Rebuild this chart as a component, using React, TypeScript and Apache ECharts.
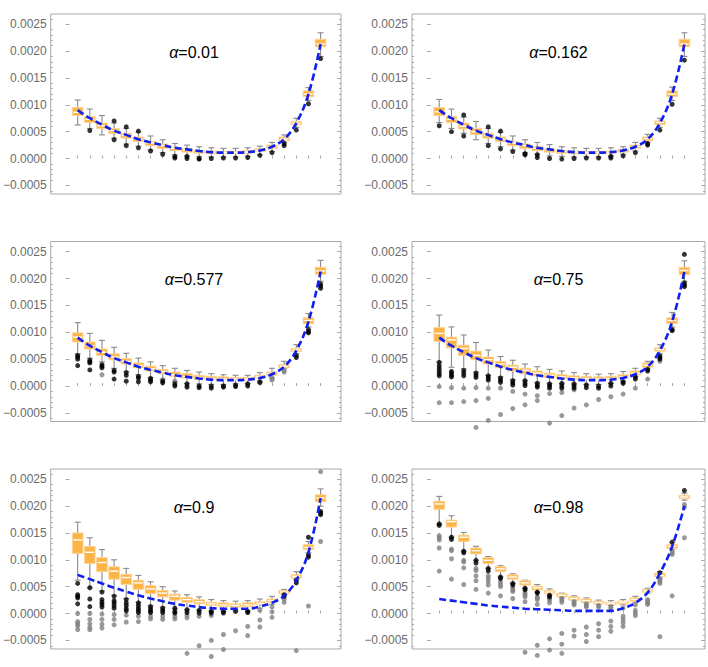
import React, { useEffect, useRef } from 'react';
import * as echarts from 'echarts';

const positions = [1, 2, 3, 4, 5, 6, 7, 8, 9, 10, 11, 12, 13, 14, 15, 16, 17, 18, 19, 20, 21];
const yMajor = [-0.0005, 0, 0.0005, 0.001, 0.0015, 0.002, 0.0025];
const yMinor = [-0.0006, -0.0004, -0.0003, -0.0002, -0.0001, 0.0001, 0.0002, 0.0003, 0.0004, 0.0006, 0.0007, 0.0008, 0.0009, 0.0011, 0.0012, 0.0013, 0.0014, 0.0016, 0.0017, 0.0018, 0.0019, 0.0021, 0.0022, 0.0023, 0.0024, 0.0026];
const alphaLabels = ['0.01', '0.162', '0.577', '0.75', '0.9', '0.98'];

// box rows: [lowWhisker, Q1, median, Q3, highWhisker]
const box001 = [
  [0.000625, 0.0008, 0.00086, 0.00095, 0.00109], [0.00056, 0.00067, 0.00073, 0.00078, 0.00092], [0.00044, 0.00056, 0.00061, 0.00066, 0.0008],
  [0.00038, 0.00047, 0.00052, 0.00056, 0.00066], [0.00027, 0.00038, 0.00043, 0.00047, 0.00056], [0.00023, 0.00032, 0.00036, 0.0004, 0.00049],
  [0.00016, 0.00024, 0.00029, 0.00032, 0.00042], [0.00011, 0.00019, 0.00024, 0.00027, 0.00035], [0.00007, 0.00015, 0.00019, 0.00021, 0.00028],
  [0.00005, 0.00012, 0.00016, 0.00018, 0.00025], [0.00004, 0.0001, 0.00013, 0.00015, 0.00022], [0.00003, 0.00009, 0.00012, 0.00014, 0.0002],
  [0.00003, 0.00009, 0.00011, 0.00013, 0.00019], [0.00003, 0.00009, 0.00011, 0.00013, 0.00019], [0.00004, 0.0001, 0.00012, 0.00015, 0.0002],
  [0.00007, 0.00013, 0.00015, 0.00018, 0.00023], [0.00013, 0.00019, 0.00022, 0.00025, 0.0003], [0.0003, 0.00033, 0.00036, 0.0004, 0.00044],
  [0.00058, 0.00063, 0.00066, 0.00069, 0.00075], [0.00108, 0.00115, 0.0012, 0.00126, 0.00132], [0.0019, 0.00208, 0.00213, 0.00222, 0.00234],
];
const near001 = [[], [0.00052], [], [0.0007, 0.00035], [0.00059, 0.00024], [0.00051, 0.0002], [0.00014], [0.00008], [0.00004, 0.00001], [0.00004, 0.0], [0.0, -0.00001], [0.0], [0.00001], [0.00001], [0.00002], [0.00006], [0.00011], [0.00028, 0.00024], [0.00053], [0.00102], [0.00186]];
const far001 = [[], [], [], [], [], [], [], [], [], [], [], [], [], [], [], [], [], [], [], [], []];

const box0162 = [
  [0.00067, 0.0008, 0.00087, 0.00095, 0.0011], [0.00056, 0.00067, 0.00073, 0.00078, 0.00092], [0.00047, 0.00055, 0.0006, 0.00066, 0.00077],
  [0.00035, 0.00045, 0.0005, 0.00056, 0.00069], [0.00028, 0.00038, 0.00043, 0.00047, 0.00056], [0.00022, 0.00032, 0.00036, 0.0004, 0.00049],
  [0.00016, 0.00024, 0.00029, 0.00032, 0.00042], [0.00011, 0.00019, 0.00024, 0.00027, 0.00035], [0.00008, 0.00015, 0.00019, 0.00022, 0.0003],
  [0.00005, 0.00012, 0.00016, 0.00018, 0.00026], [0.00004, 0.0001, 0.00013, 0.00015, 0.00022], [0.00003, 0.00009, 0.00012, 0.00014, 0.0002],
  [0.00003, 0.00009, 0.00011, 0.00013, 0.00019], [0.00003, 0.00009, 0.00011, 0.00013, 0.00019], [0.00005, 0.0001, 0.00012, 0.00014, 0.0002],
  [0.00008, 0.00012, 0.00015, 0.00017, 0.00022], [0.00014, 0.00019, 0.00022, 0.00025, 0.0003], [0.0003, 0.00033, 0.00037, 0.0004, 0.00045],
  [0.00058, 0.00063, 0.00067, 0.0007, 0.00075], [0.00108, 0.00115, 0.0012, 0.00126, 0.00133], [0.0019, 0.00208, 0.00213, 0.00222, 0.00234],
];
const near0162 = [[0.00061], [0.0005], [0.00081, 0.00042], [], [0.00059, 0.00024], [0.00051, 0.00018], [0.00013], [0.00009, 0.00007], [0.00007, 0.00002], [0.0], [-0.00001], [0.0], [0.00001], [0.00001], [0.00004, 0.00001], [0.00005], [0.00011], [0.00028, 0.00025], [0.00053], [0.00101], [0.00183]];
const far0162 = [[], [], [], [], [], [], [], [], [], [], [], [], [], [], [], [], [], [], [], [], []];

const box0577 = [
  [0.0006, 0.00082, 0.00091, 0.00099, 0.00118], [0.00052, 0.00069, 0.00075, 0.00082, 0.00098], [0.00045, 0.00057, 0.00063, 0.00069, 0.00085],
  [0.00033, 0.00049, 0.00054, 0.0006, 0.00072], [0.00027, 0.00041, 0.00046, 0.00051, 0.00061], [0.00021, 0.00034, 0.00038, 0.00043, 0.00052],
  [0.00016, 0.00028, 0.00032, 0.00037, 0.00045], [0.00013, 0.00023, 0.00027, 0.00031, 0.00038], [0.00008, 0.00018, 0.00021, 0.00026, 0.00033],
  [0.00005, 0.00015, 0.00018, 0.00023, 0.00029], [0.00004, 0.00013, 0.00016, 0.0002, 0.00026], [0.00003, 0.00012, 0.00014, 0.00018, 0.00023],
  [0.00003, 0.00012, 0.00013, 0.00017, 0.00021], [0.00004, 0.00011, 0.00013, 0.00016, 0.0002], [0.00005, 0.00011, 0.00013, 0.00016, 0.0002],
  [0.00009, 0.00015, 0.00017, 0.0002, 0.00025], [0.00015, 0.0002, 0.00023, 0.00026, 0.00033], [0.00032, 0.00034, 0.00037, 0.0004, 0.00046],
  [0.0006, 0.00064, 0.00067, 0.0007, 0.00077], [0.0011, 0.00116, 0.00122, 0.00127, 0.00135], [0.00195, 0.00208, 0.00214, 0.00221, 0.00234],
];
const near0577 = [[0.00057, 0.00054, 0.0005, 0.00038], [0.00048, 0.00045, 0.00043, 0.0003], [0.0004, 0.00037, 0.00034], [0.00029, 0.00026, 0.00013], [0.00025, 0.0002, 0.00009], [0.00018, 0.00015, 0.00008], [0.00014, 0.00011, 0.00008], [0.00009, 0.00006], [0.00004, 0.0], [0.00004, -0.00001], [0.0, -0.00003], [0.0, -0.00004], [0.0, -0.00002], [0.00002, -0.00001], [0.00004, 0.0], [0.00007], [], [], [0.00057, 0.00053], [0.00105, 0.00101, 0.00099], [0.0019, 0.00186, 0.00182]];
const far0577 = [[], [], [0.00021], [], [], [], [], [0.00012], [0.00009], [-0.00003], [], [], [], [], [], [0.00009, 0.00006], [0.00015, 0.00011], [0.00029, 0.00026], [], [], []];

const box075 = [
  [0.00045, 0.00083, 0.00098, 0.00109, 0.00132], [0.00035, 0.00071, 0.00086, 0.00091, 0.0011], [0.00032, 0.00057, 0.0007, 0.00076, 0.00095],
  [0.00026, 0.00049, 0.00057, 0.00065, 0.00081], [0.0002, 0.00041, 0.00049, 0.00054, 0.00067], [0.00017, 0.00034, 0.00041, 0.00046, 0.00055],
  [0.00012, 0.00028, 0.00035, 0.00039, 0.00048], [0.0001, 0.00023, 0.00029, 0.00033, 0.00041], [0.00007, 0.00019, 0.00024, 0.00028, 0.00036],
  [0.00005, 0.00016, 0.0002, 0.00024, 0.00031], [0.00004, 0.00014, 0.00017, 0.00021, 0.00028], [0.00004, 0.00012, 0.00015, 0.00019, 0.00025],
  [0.00003, 0.00012, 0.00014, 0.00018, 0.00023], [0.00003, 0.00012, 0.00013, 0.00017, 0.00022], [0.00005, 0.00013, 0.00014, 0.00018, 0.00023],
  [0.00009, 0.00015, 0.00017, 0.00021, 0.00027], [0.00018, 0.00021, 0.00024, 0.00028, 0.00033], [0.00032, 0.00035, 0.00039, 0.00043, 0.00046],
  [0.0006, 0.00065, 0.00068, 0.00071, 0.00077], [0.0011, 0.00116, 0.00122, 0.00127, 0.00137], [0.00195, 0.00207, 0.00215, 0.00221, 0.00233],
];
const near075 = [[0.00044, 0.00038, 0.00033, 0.00028, 0.00023, 0.00019], [0.00027, 0.00024, 0.0002, 0.00017], [0.00029, 0.00024, 0.00019], [0.00024, 0.0002, 0.00016], [0.00019, 0.00015, 0.00011], [0.00015, 0.00011, 0.00007], [0.0001, 0.00006, 0.00002], [0.0001, 0.00005, 0.00001], [0.00005, 0.00001, -0.00002], [0.00004, 0.0, -0.00004], [0.00005, 0.0, -0.00004], [0.00004, 0.0, -0.00004], [0.00002, -0.00003], [0.0, -0.00004], [0.00005, 0.0], [0.00008, 0.00005], [0.00017, 0.00013], [0.00031, 0.00028], [0.00056, 0.00053, 0.0005], [0.00105, 0.00103], [0.00245, 0.00192, 0.00188, 0.00185]];
const far075 = [[-0.00001, -0.00031], [-0.00003, -0.00031], [-0.00004, -0.00029], [-0.00003, -0.00027, -0.00077], [-0.00004, -0.00023, -0.00064], [-0.00004, -0.00053], [-0.0001, -0.00042], [-0.00015, -0.00035], [-0.00018, -0.00027], [-0.00014, -0.00069], [-0.00012, -0.00055], [-0.00007, -0.00041], [-0.00035], [-0.00025], [-0.0002], [-0.00015], [-0.00004], [0.00013], [0.00046], [], []];

const box09 = [
  [0.00062, 0.00112, 0.00137, 0.0015, 0.0017], [0.00048, 0.00093, 0.00114, 0.00125, 0.00141], [0.00042, 0.00078, 0.00095, 0.00104, 0.00119],
  [0.00034, 0.00064, 0.00079, 0.00087, 0.001], [0.00028, 0.00054, 0.00067, 0.00073, 0.00084], [0.00021, 0.00045, 0.00057, 0.00062, 0.00071],
  [0.00015, 0.00037, 0.00046, 0.00052, 0.00059], [0.00012, 0.00031, 0.00038, 0.00043, 0.0005], [0.00009, 0.00025, 0.00032, 0.00036, 0.00042],
  [0.00007, 0.00021, 0.00026, 0.0003, 0.00035], [0.00006, 0.00018, 0.00022, 0.00026, 0.00031], [0.00005, 0.00015, 0.00018, 0.00021, 0.00026],
  [0.00004, 0.00013, 0.00016, 0.0002, 0.00024], [0.00005, 0.00012, 0.00015, 0.00018, 0.00023], [0.00005, 0.00013, 0.00016, 0.0002, 0.00024],
  [0.0001, 0.00017, 0.00019, 0.00022, 0.00027], [0.00017, 0.00021, 0.00024, 0.00027, 0.00032], [0.00035, 0.00037, 0.0004, 0.00043, 0.00045],
  [0.00063, 0.00066, 0.00069, 0.00072, 0.00078], [0.00113, 0.00119, 0.00123, 0.00128, 0.00134], [0.002, 0.00208, 0.00215, 0.00221, 0.00232],
];
const near09 = [[0.00056, 0.00035, 0.00032, 0.00029, 0.00018], [0.00048, 0.00027, 0.00013], [0.0004, 0.00026, 0.00021, 0.00017, 0.00012], [0.00032, 0.00024, 0.0002, 0.00015, 0.0001], [0.00026, 0.0002, 0.00015, 0.00009, 0.00005], [0.0002, 0.00015, 0.0001, 0.00006, 0.00002], [0.00013, 0.00009, 0.00005, 0.00002], [0.0001, 0.00006, 0.00002], [0.0001, 0.00004, 0.00001], [0.00007, 0.00002], [0.00006, 0.00001], [0.00004, 0.00001], [0.00004, 0.00001], [0.00004], [0.00004, 0.00002], [], [], [0.00035, 0.00032], [0.00062, 0.00057], [0.00142, 0.00109, 0.00105], [0.0019, 0.00187, 0.00184]];
const far09 = [[0.0, -0.00015, -0.00019, -0.00023, -0.0003], [0.0, -0.00011, -0.00019, -0.00026, -0.0003], [-0.00001, -0.00011, -0.0002, -0.00027], [-0.00002, -0.00011, -0.00021], [-0.00003, -0.00016], [-0.00005, -0.00015], [-0.00005, -0.0001], [-0.00005, -0.00011], [-0.00005, -0.0001], [-0.00003, -0.00008, -0.00074], [-0.00005, -0.0006], [-0.00004, -0.0005, -0.0008], [-0.00039, -0.00067], [-0.00032], [-0.00024, -0.00041], [0.00006, -0.00012, -0.00025], [0.00012, 0.00003, -0.00007], [0.00027, 0.00021], [-0.00069], [0.00014], [0.00264, 0.00134]];

const box098 = [
  [0.00166, 0.00194, 0.00204, 0.00209, 0.00218], [0.00142, 0.00161, 0.00171, 0.00174, 0.00182], [0.00116, 0.00134, 0.00142, 0.00146, 0.00151],
  [0.00099, 0.00111, 0.00117, 0.00122, 0.00125], [0.00084, 0.00093, 0.00099, 0.00104, 0.00106], [0.00068, 0.00078, 0.00083, 0.00087, 0.00089],
  [0.00056, 0.00064, 0.00068, 0.00072, 0.00074], [0.00047, 0.00053, 0.00057, 0.00061, 0.00062], [0.0004, 0.00044, 0.00048, 0.00051, 0.00054],
  [0.00034, 0.00037, 0.0004, 0.00043, 0.00046], [0.0003, 0.00031, 0.00034, 0.00037, 0.00038], [0.00024, 0.00025, 0.00028, 0.00031, 0.00033],
  [0.0002, 0.00021, 0.00024, 0.00027, 0.00029], [0.00017, 0.00018, 0.0002, 0.00023, 0.00025], [0.00015, 0.00017, 0.00019, 0.00021, 0.00024],
  [0.00016, 0.00018, 0.00021, 0.00023, 0.00026], [0.00021, 0.00023, 0.00026, 0.00029, 0.00032], [0.00038, 0.0004, 0.00042, 0.00045, 0.00047],
  [0.00066, 0.00069, 0.00071, 0.00075, 0.00078], [0.0012, 0.00121, 0.00125, 0.00128, 0.00132], [0.00211, 0.00214, 0.00217, 0.0022, 0.00224],
];
const near098 = [[0.00167, 0.00164], [0.00142, 0.00138], [0.00116, 0.00113], [0.00099, 0.00094], [0.00084, 0.00079], [0.00068, 0.00065], [0.00056, 0.00053], [0.00047, 0.00044], [0.0004, 0.00038], [0.00034, 0.00031], [], [], [], [], [], [], [], [], [0.00076], [0.00133], [0.00229]];
const far098 = [[0.00145, 0.00141, 0.00137, 0.00122, 0.00079], [0.0012, 0.00117, 0.00102, 0.00064], [0.00099, 0.00096, 0.00085, 0.00054], [0.00084, 0.0008, 0.0007, 0.00061, 0.00045], [0.0007, 0.00065, 0.00059, 0.00053, 0.00038], [0.00059, 0.00054, 0.0005, 0.00033], [0.00047, 0.00044, 0.00041, 0.00028], [0.00038, 0.00035, 0.00031, 0.00022, -0.00072], [0.00031, 0.00029, 0.00026, 0.00017, -0.00059, -0.00078], [0.00028, 0.00025, 0.0002, -0.00047, -0.00068], [0.00028, 0.00025, 0.00021, -0.00037, -0.00057, -0.00074], [0.00022, 0.00019, 0.00016, -0.00031, -0.00042], [0.00018, 0.00015, 0.00012, -0.00025, -0.00039, -0.00052], [0.00015, 0.00012, -0.00019, -0.00031, -0.00043], [0.00013, 0.0001, -0.00014, -0.00024, -0.00033], [0.0001, -0.00005, -0.00011, -0.00017, -0.00024], [0.00016, 0.00006, 0.00001, -0.00004], [0.00026, 0.00023, 0.0002, 0.00017], [0.00065, 0.00062, 0.00059, 0.00056, -0.00043], [0.00117, 0.00113, 0.0011, 0.00033], [0.00203, 0.00198, 0.00141]];

const curveMid = [0.0009, 0.00075, 0.00063, 0.00052, 0.00044, 0.00036, 0.0003, 0.00025, 0.0002, 0.00017, 0.00014, 0.00012, 0.00011, 0.00011, 0.00012, 0.00015, 0.00022, 0.00036, 0.00066, 0.0012, 0.00213];
const curve09 = [0.00072, 0.00064, 0.00056, 0.00048, 0.00041, 0.00034, 0.00028, 0.00023, 0.00018, 0.00015, 0.00012, 0.0001, 0.00009, 0.00009, 0.00009, 0.00013, 0.0002, 0.00033, 0.00062, 0.00114, 0.00215];
const curve098 = [0.00027, 0.00024, 0.00021, 0.00018, 0.00015, 0.00013, 0.00011, 0.00009, 0.00008, 0.00007, 0.00006, 0.00005, 0.00005, 0.00005, 0.00005, 0.0001, 0.0002, 0.00039, 0.00075, 0.00125, 0.002];

const panels = [
  { box: box001, near: near001, far: far001, curve: curveMid },
  { box: box0162, near: near0162, far: far0162, curve: curveMid },
  { box: box0577, near: near0577, far: far0577, curve: curveMid },
  { box: box075, near: near075, far: far075, curve: curveMid },
  { box: box09, near: near09, far: far09, curve: curve09 },
  { box: box098, near: near098, far: far098, curve: curve098 },
];

const FONT = '"Liberation Sans", Arial, Helvetica, sans-serif';
const FRAME = '#a9a9a9';
const WHISKER = '#8a8a8a';
const BOX_FILL = '#fcb447';
const BOX_EDGE = '#fed394';
const Y_MIN = -0.00066;
const Y_MAX = 0.00269;
const X_MIN = -1.22;
const X_MAX = 22.68;
const layout = [
  { left: 47, top: 14, width: 294 },
  { left: 412, top: 14, width: 293 },
  { left: 47, top: 241.5, width: 294 },
  { left: 412, top: 241.5, width: 293 },
  { left: 47, top: 469, width: 294 },
  { left: 412, top: 469, width: 293 },
];
const GH = 180;

const fmt = (v: number) => (v < -1e-12 ? '\u2212' + Math.abs(v).toFixed(4) : Math.abs(v).toFixed(4));

const renderBox = (params: any, api: any) => {
  const x = api.value(0);
  const lo = api.coord([x, api.value(1)]);
  const q1 = api.coord([x, api.value(2)]);
  const md = api.coord([x, api.value(3)]);
  const q3 = api.coord([x, api.value(4)]);
  const hi = api.coord([x, api.value(5)]);
  const cx = lo[0];
  const hw = 5.3;
  const cw = 3;
  const ws = { stroke: WHISKER, lineWidth: 1.1 };
  return {
    type: 'group',
    children: [
      { type: 'line', shape: { x1: cx, y1: hi[1], x2: cx, y2: lo[1] }, style: ws },
      { type: 'line', shape: { x1: cx - cw, y1: hi[1], x2: cx + cw, y2: hi[1] }, style: ws },
      { type: 'line', shape: { x1: cx - cw, y1: lo[1], x2: cx + cw, y2: lo[1] }, style: ws },
      { type: 'rect', shape: { x: cx - hw, y: q3[1], width: hw * 2, height: Math.max(q1[1] - q3[1], 2) }, style: { fill: BOX_FILL, stroke: BOX_EDGE, lineWidth: 1 } },
      { type: 'line', shape: { x1: cx - hw + 1, y1: md[1], x2: cx + hw - 1, y2: md[1] }, style: { stroke: '#ffffff', lineWidth: 1.4 } },
    ],
  };
};

function buildOption() {
  const grid: any[] = [];
  const xAxis: any[] = [];
  const yAxis: any[] = [];
  const series: any[] = [];
  const title: any[] = [];
  panels.forEach((p, g) => {
    const L = layout[g];
    grid.push({ left: L.left, top: L.top, width: L.width, height: GH, show: true, borderColor: FRAME, borderWidth: 1, backgroundColor: 'transparent' });
    xAxis.push({
      type: 'value', gridIndex: g, min: X_MIN, max: X_MAX,
      axisLine: { show: false }, splitLine: { show: false },
      axisTick: { show: true, inside: true, length: 3, customValues: positions, lineStyle: { color: FRAME, width: 1 } },
      axisLabel: { show: false },
    });
    const yBase = { type: 'value', gridIndex: g, min: Y_MIN, max: Y_MAX, axisLine: { show: false }, splitLine: { show: false } };
    const yi = yAxis.length;
    yAxis.push({
      ...yBase, position: 'left',
      axisTick: { show: true, inside: true, length: 4, customValues: yMajor, lineStyle: { color: FRAME, width: 1 } },
      axisLabel: { show: true, customValues: yMajor, formatter: fmt, color: '#6b6b6b', fontSize: 12, fontFamily: FONT, margin: 4 },
    });
    yAxis.push({
      ...yBase, position: 'left',
      axisTick: { show: true, inside: true, length: 2, customValues: yMinor, lineStyle: { color: FRAME, width: 1 } },
      axisLabel: { show: false },
    });
    yAxis.push({
      ...yBase, position: 'right',
      axisTick: { show: true, inside: true, length: 4, customValues: yMajor, lineStyle: { color: FRAME, width: 1 } },
      axisLabel: { show: false },
    });
    yAxis.push({
      ...yBase, position: 'right',
      axisTick: { show: true, inside: true, length: 2, customValues: yMinor, lineStyle: { color: FRAME, width: 1 } },
      axisLabel: { show: false },
    });
    series.push({
      type: 'custom', name: 'box' + g, xAxisIndex: g, yAxisIndex: yi, z: 2,
      renderItem: renderBox,
      encode: { x: 0, y: [1, 2, 3, 4, 5] },
      data: p.box.map((r, i) => [positions[i], ...r]),
    });
    series.push({
      type: 'scatter', name: 'far' + g, xAxisIndex: g, yAxisIndex: yi, z: 3, clip: false,
      symbol: 'circle', symbolSize: 5, itemStyle: { color: '#7f7f7f' },
      data: p.far.flatMap((vals, i) => vals.map((v) => [positions[i], v])),
    });
    series.push({
      type: 'scatter', name: 'near' + g, xAxisIndex: g, yAxisIndex: yi, z: 4, clip: false,
      symbol: 'circle', symbolSize: 5, itemStyle: { color: '#000000' },
      data: p.near.flatMap((vals, i) => vals.map((v) => [positions[i], v])),
    });
    series.push({
      type: 'line', name: 'curve' + g, xAxisIndex: g, yAxisIndex: yi, z: 5,
      smooth: 0.4, showSymbol: false, symbol: 'none',
      lineStyle: { color: '#1020ee', width: 2.6, type: [7, 3.5] },
      data: p.curve.map((v, i) => [positions[i], v]),
    });
    title.push({
      text: '{a|\u03b1}=' + alphaLabels[g],
      left: L.left + L.width / 2, top: L.top + 29, textAlign: 'center', padding: 0,
      textStyle: {
        fontSize: 16, fontFamily: FONT, color: '#000', fontWeight: 'normal', lineHeight: 18,
        rich: { a: { fontStyle: 'italic', fontSize: 16, fontFamily: FONT, color: '#000', lineHeight: 18 } },
      },
    });
  });
  return { animation: false, backgroundColor: '#ffffff', title, grid, xAxis, yAxis, series };
}

export default function App() {
  const ref = useRef<HTMLDivElement>(null);
  useEffect(() => {
    if (!ref.current) return;
    const chart = echarts.init(ref.current, undefined, { renderer: 'svg' });
    chart.setOption(buildOption() as any);
    return () => chart.dispose();
  }, []);
  return <div ref={ref} style={{ position: 'absolute', left: 0, top: 0, width: 708, height: 667 }} />;
}
